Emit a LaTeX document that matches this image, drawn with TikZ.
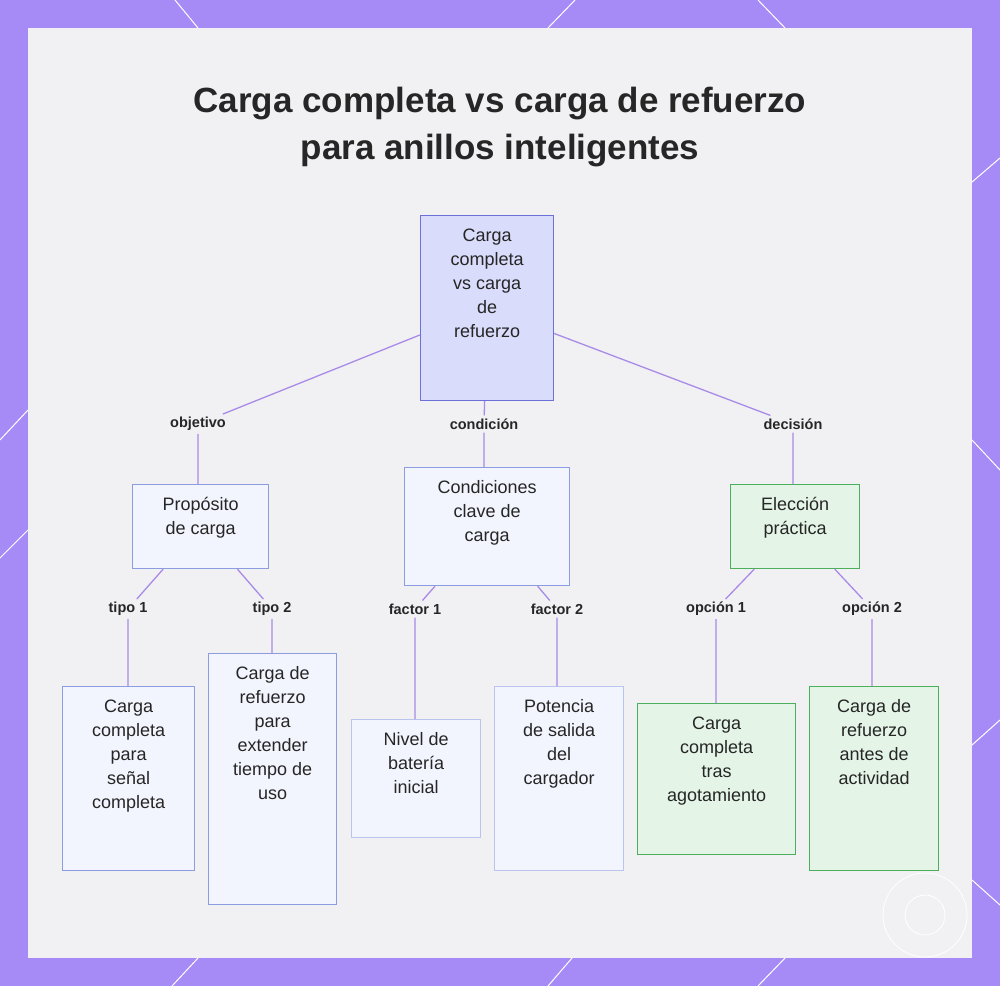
\documentclass[tikz,border=0pt]{standalone}
\usepackage{fontspec}
\setmainfont{Liberation Sans}
\definecolor{frame}{HTML}{A68BF7}
\definecolor{panel}{HTML}{F1F1F3}
\definecolor{rootfill}{HTML}{D9DCFA}
\definecolor{rootline}{HTML}{6C70D8}
\definecolor{bluefill}{HTML}{F3F5FE}
\definecolor{blueline}{HTML}{8C9CE0}
\definecolor{greenfill}{HTML}{E4F5E7}
\definecolor{greenline}{HTML}{4CAF5C}
\definecolor{edgecol}{HTML}{A98AE8}
\definecolor{txt}{HTML}{262626}
% top aligned box text: width, height, lines
\newcommand\boxtxt[3]{\parbox[t][#2pt][t]{#1pt}{\centering\vspace*{9pt}#3}}
\begin{document}
\begin{tikzpicture}[x=1pt,y=-1pt,
      box/.style={draw,line width=1.2pt,anchor=north west,inner sep=4pt,
        font=\fontsize{18}{24}\selectfont,text=txt},
      bluebox/.style={box,fill=bluefill,draw=blueline},
      greenbox/.style={box,fill=greenfill,draw=greenline},
      lab/.style={font=\bfseries\fontsize{14.5}{16}\selectfont,text=txt,inner sep=3pt},
      link/.style={draw=edgecol,line width=1.3pt}]
 \useasboundingbox (0,0) rectangle (1000,986);
 \fill[frame] (0,0) rectangle (1000,986);
 \fill[panel] (28,28) rectangle (972,958);
 % frame stripes
 \foreach \a/\b/\c/\d in {175/0/198/28, 575/0/548/28, 758/0/785/28, 972/182/1000/158,
     972/440/1000/470, 0/440/28/410, 0/558/28/530, 972/745/1000/720, 972/880/1000/905,
     172/986/198/958, 548/986/572/958, 758/986/785/958}
   \draw[white,line width=1pt] (\a,\b) -- (\c,\d);
 \draw[white,line width=0.8pt] (925,915) circle (42);
 \draw[white,line width=0.8pt] (925,915) circle (20);
 \node[font=\bfseries\fontsize{35}{47}\selectfont,text=txt,align=center] (title) at (500,127)
   {Carga completa vs carga de refuerzo\\para anillos inteligentes};

 % tree boxes
 \node[box,fill=rootfill,draw=rootline] (root) at (420,215)
   {\boxtxt{125}{177}{Carga\\completa\\vs carga\\de\\refuerzo}};
 \node[bluebox] (prop) at (132,484) {\boxtxt{128}{76}{Propósito\\de carga}};
 \node[bluebox] (cond) at (404,467) {\boxtxt{157}{110}{Condiciones\\clave de\\carga}};
 \node[greenbox] (elec) at (730,484) {\boxtxt{121}{76}{Elección\\práctica}};
 \node[bluebox] (full) at (62,686) {\boxtxt{124}{176}{Carga\\completa\\para\\señal\\completa}};
 \node[bluebox] (boost) at (208,653) {\boxtxt{120}{243}{Carga de\\refuerzo\\para\\extender\\tiempo de\\uso}};
 \node[bluebox,draw=blueline!60] (nivel) at (351,719) {\boxtxt{121}{110}{Nivel de\\batería\\inicial}};
 \node[bluebox,draw=blueline!60] (pot) at (494,686) {\boxtxt{121}{176}{Potencia\\de salida\\del\\cargador}};
 \node[greenbox] (tras) at (637,703) {\boxtxt{150}{143}{Carga\\completa\\tras\\agotamiento}};
 \node[greenbox] (antes) at (809,686) {\boxtxt{121}{176}{Carga de\\refuerzo\\antes de\\actividad}};

 % edge labels
 \node[lab] (objetivo) at (198,424) {objetivo};
 \node[lab] (condicion) at (484,424) {condición};
 \node[lab] (decision) at (793,424) {decisión};
 \node[lab] (tipo1) at (128,609) {tipo 1};
 \node[lab] (tipo2) at (272,609) {tipo 2};
 \node[lab] (factor1) at (415,609) {factor 1};
 \node[lab] (factor2) at (557,609) {factor 2};
 \node[lab] (opcion1) at (716,609) {opción 1};
 \node[lab] (opcion2) at (872,609) {opción 2};

 \path[link]
  (root) -- (objetivo) (objetivo) -- (objetivo |- prop.north)
  (root) -- (condicion) (condicion) -- (condicion |- cond.north)
  (root) -- (decision) (decision) -- (decision |- elec.north)
  (prop) -- (tipo1) (tipo1) -- (tipo1 |- full.north)
  (prop) -- (tipo2) (tipo2) -- (tipo2 |- boost.north)
  (cond) -- (factor1) (factor1) -- (factor1 |- nivel.north)
  (cond) -- (factor2) (factor2) -- (factor2 |- pot.north)
  (elec) -- (opcion1) (opcion1) -- (opcion1 |- tras.north)
  (elec) -- (opcion2) (opcion2) -- (opcion2 |- antes.north);
\end{tikzpicture}
\end{document}
